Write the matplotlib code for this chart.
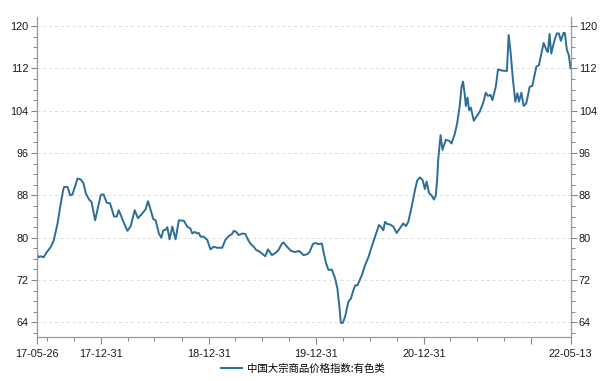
import numpy as np
import pandas as pd
import matplotlib
matplotlib.use("Agg")
import matplotlib.pyplot as plt
import matplotlib.dates as mdates
from matplotlib.ticker import MultipleLocator, FixedLocator

plt.rcParams['font.family'] = ['Liberation Sans', 'Noto Sans CJK SC', 'DejaVu Sans']

series_name = "中国大宗商品价格指数:有色类"

# time as decimal years
t_years = [
    2017.397, 2017.412, 2017.437, 2017.462, 2017.493, 2017.530, 2017.555, 2017.592, 2017.616, 2017.644,
    2017.653, 2017.685, 2017.709, 2017.731, 2017.778, 2017.808, 2017.833, 2017.854, 2017.885, 2017.907,
    2017.941, 2017.994, 2018.019, 2018.049, 2018.080, 2018.117, 2018.142, 2018.160, 2018.179, 2018.204,
    2018.241, 2018.272, 2018.309, 2018.339, 2018.380, 2018.411, 2018.432, 2018.451, 2018.482, 2018.503,
    2018.534, 2018.556, 2018.575, 2018.596, 2018.612, 2018.633, 2018.658, 2018.689, 2018.719, 2018.766,
    2018.797, 2018.828, 2018.844, 2018.868, 2018.890, 2018.905, 2018.921, 2018.951, 2018.983, 2019.013,
    2019.044, 2019.075, 2019.122, 2019.152, 2019.183, 2019.214, 2019.229, 2019.252, 2019.276, 2019.313,
    2019.338, 2019.363, 2019.384, 2019.415, 2019.437, 2019.468, 2019.498, 2019.523, 2019.548, 2019.585,
    2019.622, 2019.646, 2019.678, 2019.693, 2019.724, 2019.764, 2019.801, 2019.838, 2019.863, 2019.878,
    2019.915, 2019.934, 2019.965, 2019.987, 2020.017, 2020.049, 2020.064, 2020.089, 2020.110, 2020.141,
    2020.172, 2020.193, 2020.212, 2020.225, 2020.243, 2020.265, 2020.295, 2020.318, 2020.342, 2020.358,
    2020.379, 2020.420, 2020.450, 2020.481, 2020.512, 2020.543, 2020.580, 2020.596, 2020.620, 2020.636,
    2020.657, 2020.682, 2020.713, 2020.744, 2020.768, 2020.805, 2020.830, 2020.852, 2020.883, 2020.914,
    2020.935, 2020.960, 2020.985, 2021.006, 2021.022, 2021.046, 2021.069, 2021.090, 2021.108, 2021.120,
    2021.130, 2021.152, 2021.170, 2021.201, 2021.232, 2021.254, 2021.285, 2021.306, 2021.331, 2021.347,
    2021.361, 2021.377, 2021.387, 2021.402, 2021.417, 2021.433, 2021.461, 2021.486, 2021.516, 2021.547,
    2021.572, 2021.593, 2021.616, 2021.634, 2021.665, 2021.686, 2021.717, 2021.769, 2021.785, 2021.801,
    2021.825, 2021.847, 2021.866, 2021.881, 2021.903, 2021.924, 2021.949, 2021.980, 2022.005, 2022.042,
    2022.066, 2022.110, 2022.140, 2022.150, 2022.165, 2022.181, 2022.212, 2022.233, 2022.252, 2022.270,
    2022.295, 2022.307, 2022.326, 2022.344, 2022.362,
]

values = [
    77.3, 76.3, 76.5, 76.3, 77.3, 78.3, 79.4, 82.7, 85.8, 89.0,
    89.6, 89.6, 88.0, 88.2, 91.2, 91.0, 90.3, 88.4, 87.2, 86.8,
    83.3, 88.1, 88.2, 86.6, 86.5, 84.0, 84.0, 85.2, 84.3, 83.0,
    81.3, 82.2, 85.2, 83.7, 84.6, 85.4, 86.9, 85.7, 83.5, 83.3,
    80.8, 80.0, 81.4, 81.5, 82.0, 79.7, 82.1, 79.7, 83.3, 83.2,
    82.1, 81.7, 80.8, 81.1, 80.8, 80.9, 80.2, 80.2, 79.6, 77.8,
    78.3, 78.1, 78.1, 79.6, 80.3, 80.7, 81.3, 81.1, 80.5, 80.8,
    80.7, 79.6, 78.9, 78.3, 77.7, 77.4, 76.9, 76.5, 77.8, 76.7,
    77.2, 77.7, 78.9, 79.1, 78.3, 77.5, 77.3, 77.5, 77.0, 76.7,
    76.9, 77.3, 78.8, 79.0, 78.8, 78.9, 77.3, 75.1, 73.9, 74.0,
    72.3, 70.4, 66.9, 63.9, 63.9, 65.1, 67.9, 68.5, 70.1, 71.0,
    71.0, 72.9, 74.8, 76.3, 78.3, 80.2, 82.4, 82.1, 81.4, 83.0,
    82.6, 82.5, 82.1, 80.9, 81.6, 82.7, 82.2, 83.0, 85.8, 89.0,
    90.8, 91.4, 90.9, 89.2, 90.6, 88.4, 88.0, 87.2, 88.0, 91.0,
    94.7, 99.4, 96.6, 98.5, 98.3, 97.8, 99.7, 101.6, 105.1, 108.5,
    109.5, 107.0, 104.9, 106.5, 104.1, 104.6, 102.1, 102.9, 103.8, 105.4,
    107.4, 106.8, 107.0, 106.0, 108.5, 111.8, 111.6, 111.5, 118.3, 115.5,
    109.8, 105.7, 107.3, 105.7, 107.4, 104.9, 105.4, 108.5, 108.7, 112.3,
    112.6, 116.8, 115.3, 115.1, 118.5, 114.8, 117.4, 118.6, 118.6, 117.2,
    118.7, 118.7, 115.5, 114.5, 112.0,
]

start_date = "2017-05-26"
end_date = "2022-05-13"
major_dates = ["2017-05-26", "2017-12-31", "2018-12-31", "2019-12-31", "2020-12-31", "2021-12-31", "2022-05-13"]
major_labels = ["17-05-26", "17-12-31", "18-12-31", "19-12-31", "20-12-31", "", "22-05-13"]
minor_dates = ["2017-06-30", "2017-09-30", "2018-03-31", "2018-06-30", "2018-09-30",
               "2019-03-31", "2019-06-30", "2019-09-30", "2020-03-31", "2020-06-30", "2020-09-30",
               "2021-03-31", "2021-06-30", "2021-09-30"]

yr = np.array(t_years)
base = pd.Timestamp("2017-01-01")
dates = [base + pd.Timedelta(days=float((y - 2017.0) * 365.25)) for y in yr]
dates[0] = pd.Timestamp(start_date)
dates[-1] = pd.Timestamp(end_date)

fig = plt.figure(figsize=(6.0, 3.81), dpi=100)
ax = fig.add_axes([0.061, 0.1163, 0.890, 0.839])

line_color = "#2b6e98"
ax.plot(dates, values, color=line_color, lw=1.4, label=series_name)

ax.set_xlim(pd.Timestamp(start_date), pd.Timestamp(end_date))
ax.set_ylim(61.3, 121.7)

ax.yaxis.set_major_locator(FixedLocator([64, 72, 80, 88, 96, 104, 112, 120]))
ax.yaxis.set_minor_locator(MultipleLocator(2))
ax.yaxis.set_ticks_position('both')
ax.tick_params(axis='y', which='both', labelleft=True, labelright=True, direction='out',
               colors='#888888', labelcolor='#1a1a1a', labelsize=7.8, pad=1.5)
ax.tick_params(axis='y', which='major', length=4.5, width=0.8)
ax.tick_params(axis='y', which='minor', length=3, width=0.7)

xmaj = [mdates.date2num(pd.Timestamp(d)) for d in major_dates]
xmin = [mdates.date2num(pd.Timestamp(d)) for d in minor_dates]
ax.xaxis.set_major_locator(FixedLocator(xmaj))
ax.set_xticklabels(major_labels)
ax.xaxis.set_minor_locator(FixedLocator(xmin))
ax.tick_params(axis='x', which='both', direction='out', colors='#888888', labelcolor='#1a1a1a',
               labelsize=7.8)
ax.tick_params(axis='x', which='major', length=5, width=0.8, pad=4)
ax.tick_params(axis='x', which='minor', length=3, width=0.7)

ax.grid(axis='y', which='major', linestyle=(0, (3, 3)), color='#dcdcdc', lw=0.7)
ax.set_axisbelow(True)

for side in ['left', 'right', 'bottom']:
    ax.spines[side].set_color('#999999')
    ax.spines[side].set_linewidth(0.9)
ax.spines['top'].set_visible(False)

leg = fig.legend(loc='lower center', bbox_to_anchor=(0.505, -0.005), frameon=False,
                 prop={'family': ['Noto Sans CJK SC', 'DejaVu Sans'], 'size': 7.5},
                 handlelength=2.0, handletextpad=0.5)

fig.savefig("out.png", dpi=100)
